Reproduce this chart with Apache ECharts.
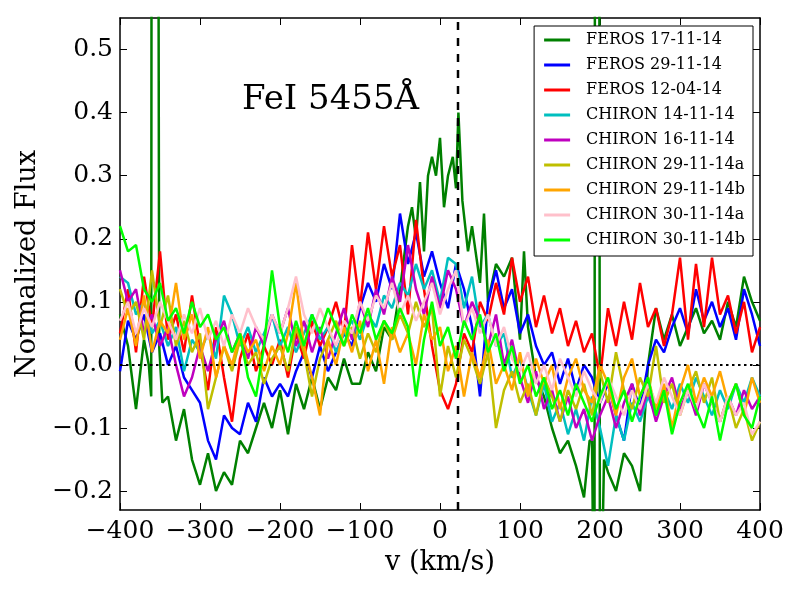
<!DOCTYPE html>
<html>
<head>
<meta charset="utf-8">
<script src="https://cdn.jsdelivr.net/npm/echarts@6/dist/echarts.min.js"></script>
<style>html,body{margin:0;padding:0;background:#fff}#c{width:800px;height:600px}</style>
</head>
<body>
<div id="c"></div>
<script>
// velocity grid (km/s) shared by the CHIRON / FEROS 29-11 / 12-04 spectra
const V = [-400,-390,-380,-370,-360,-350,-340,-330,-320,-310,
-300,-290,-280,-270,-260,-250,-240,-230,-220,-210,
-200,-190,-180,-170,-160,-150,-140,-130,-120,-110,
-100,-90,-80,-70,-60,-50,-40,-30,-20,-10,
0,10,20,30,40,50,60,70,80,90,
100,110,120,130,140,150,160,170,180,190,
200,210,220,230,240,250,260,270,280,290,
300,310,320,330,340,350,360,370,380,390,400];

// FEROS 17-11-14 (own velocity sampling, includes cosmic-ray spikes)
const FEROS_171114_V = [-400,-390,-380,-370,-364,-361,-358,-351,-347,-340,
-330,-320,-310,-300,-290,-280,-270,-260,-250,-240,
-230,-220,-210,-200,-190,-180,-170,-160,-150,-140,
-130,-120,-110,-100,-90,-80,-70,-60,-50,-40,
-35,-30,-25,-20,-15,-10,-5,0,5,10,
16,20,23,28,35,40,50,55,60,70,
80,90,100,105,110,120,130,140,150,160,
170,180,187,190,193,196,200,205,210,220,
230,240,250,260,270,280,290,300,310,320,
330,340,350,360,370,380,390,400];
const FEROS_171114 = [0.08,0.03,-0.07,0.04,0.00,-0.05,5,0.03,-0.06,-0.05,
-0.12,-0.07,-0.15,-0.19,-0.14,-0.20,-0.17,-0.19,-0.12,-0.14,
-0.10,-0.06,-0.10,-0.04,-0.11,-0.03,-0.07,-0.02,-0.07,-0.02,
-0.04,0.01,-0.03,-0.03,0.02,-0.01,0.06,0.04,0.12,0.22,
0.25,0.20,0.29,0.18,0.30,0.33,0.30,0.36,0.25,0.30,
0.33,0.28,0.40,0.26,0.18,0.22,0.13,0.24,0.10,0.16,
0.14,0.17,0.04,0.18,0.06,-0.02,-0.05,-0.10,-0.14,-0.12,
-0.16,-0.21,-0.12,-0.12,-0.5,5,-0.5,-0.15,-0.17,-0.20,
-0.14,-0.16,-0.20,0.00,0.09,0.04,0.08,0.03,0.06,0.09,
0.05,0.07,0.04,0.10,0.06,0.14,0.10,0.07];

const FEROS_291114 = [-0.01,0.07,0.04,0.08,0.02,0.05,0.00,0.03,-0.02,-0.04,
-0.06,-0.12,-0.15,-0.08,-0.10,-0.11,-0.06,-0.09,-0.02,-0.05,
-0.03,-0.05,-0.01,0.02,-0.02,0.03,-0.01,0.02,0.05,0.03,
0.09,0.13,0.10,0.16,0.12,0.24,0.16,0.21,0.14,0.18,
0.13,0.09,0.16,0.12,0.06,-0.05,0.10,0.15,0.09,0.12,
0.05,0.08,0.03,0.00,0.02,-0.03,0.01,-0.04,0.00,-0.02,
-0.06,-0.03,-0.08,-0.12,-0.03,-0.07,0.00,0.04,0.02,0.06,
0.09,0.05,0.12,0.07,0.10,0.06,0.09,0.04,0.12,0.08,
0.03];
const FEROS_120414 = [0.05,0.12,0.02,0.14,0.06,0.18,0.04,0.08,0.02,0.11,
0.03,-0.04,0.06,-0.02,-0.09,0.01,0.05,-0.01,0.03,0.00,
0.04,-0.02,0.05,0.01,0.07,0.03,0.06,0.10,0.05,0.19,
0.09,0.21,0.12,0.22,0.14,0.19,0.08,0.23,0.12,0.03,
-0.04,-0.07,-0.03,0.05,0.02,0.10,0.07,0.13,0.08,0.17,
0.10,0.14,0.06,0.11,0.05,0.09,0.03,0.07,0.02,0.05,
-0.02,0.09,0.03,0.10,0.04,0.13,0.06,0.09,0.03,0.08,
0.17,0.04,0.16,0.06,0.17,0.08,0.11,0.05,0.10,0.02,
0.06];
const CHIRON_141114 = [0.14,0.13,0.08,0.10,0.05,0.07,0.03,0.06,-0.01,0.04,
0.02,0.05,0.01,0.11,0.08,0.03,0.06,0.02,0.05,0.08,
0.03,0.06,0.02,0.05,0.08,0.04,0.06,0.02,0.05,0.07,
0.04,0.08,0.06,0.11,0.09,0.13,0.11,0.16,0.12,0.15,
0.10,0.17,0.16,0.09,0.14,0.06,0.08,0.03,0.05,-0.02,
0.01,-0.04,-0.08,-0.03,-0.09,-0.06,-0.11,-0.07,-0.12,-0.05,
-0.10,-0.16,-0.08,-0.12,-0.06,-0.09,-0.05,-0.08,-0.04,-0.07,
-0.03,-0.06,-0.02,-0.05,-0.08,-0.04,-0.07,-0.03,-0.06,-0.02,
-0.05];
const CHIRON_161114 = [0.15,0.10,0.12,0.05,0.08,0.03,0.06,0.00,-0.05,-0.02,
0.03,-0.01,0.04,0.07,0.02,0.05,0.01,0.06,0.03,0.08,
0.05,0.09,0.03,0.07,0.02,0.06,0.01,0.05,0.09,0.04,
0.10,0.06,0.12,0.08,0.14,0.10,0.19,0.12,0.08,0.14,
0.09,0.15,0.12,0.06,0.10,0.07,0.03,0.08,0.00,0.04,
-0.02,-0.06,-0.01,-0.07,-0.04,-0.09,-0.05,-0.10,-0.07,-0.12,
-0.08,-0.05,-0.10,-0.06,-0.03,-0.08,-0.04,-0.09,-0.05,-0.02,
-0.07,-0.04,-0.08,-0.03,-0.06,-0.09,-0.05,-0.08,-0.04,-0.07,
-0.05];
const CHIRON_291114a = [0.12,0.08,0.10,0.04,0.15,0.06,0.11,0.03,0.07,0.02,
0.05,-0.07,-0.02,0.03,-0.01,0.04,0.00,0.02,-0.03,0.01,
0.03,-0.01,0.06,0.02,-0.05,0.01,0.04,0.07,0.03,0.06,
0.01,0.05,0.02,0.07,0.04,0.08,0.05,0.10,0.06,0.09,
-0.05,0.03,-0.02,0.04,0.01,-0.03,0.02,-0.10,-0.04,-0.01,
-0.06,-0.03,-0.08,-0.02,-0.05,-0.09,-0.04,-0.07,-0.03,-0.08,
-0.01,-0.06,0.02,-0.04,-0.07,-0.02,-0.05,0.03,-0.06,-0.03,
-0.08,-0.04,-0.01,-0.06,-0.02,-0.09,-0.05,-0.10,-0.07,-0.12,
-0.09];
const CHIRON_291114b = [0.04,0.09,0.03,0.11,0.02,0.07,0.05,0.13,0.04,0.08,
0.01,0.06,-0.02,0.03,0.00,0.05,0.02,0.04,-0.01,0.03,
0.00,0.05,0.13,0.03,-0.02,-0.08,0.04,0.00,0.06,0.02,
0.07,-0.01,0.04,-0.03,0.06,0.02,0.05,0.00,0.08,0.04,
0.06,-0.01,0.03,-0.05,0.02,-0.02,0.04,-0.03,0.00,-0.04,
0.02,-0.05,0.01,-0.03,0.00,-0.07,-0.02,0.01,-0.04,-0.06,
0.00,-0.03,-0.08,-0.02,0.01,-0.05,-0.02,-0.07,-0.03,-0.10,
-0.04,0.00,-0.06,-0.02,-0.05,-0.01,-0.06,-0.03,-0.08,-0.02,
-0.06];
const CHIRON_301114a = [0.07,0.10,0.05,0.09,0.06,0.10,0.07,0.04,0.08,0.05,
0.09,0.04,0.07,0.03,0.08,0.05,0.09,0.06,0.04,0.08,
0.05,0.09,0.14,0.08,0.05,0.09,0.06,0.03,0.07,0.05,
0.10,0.07,0.11,0.09,0.13,0.08,0.11,0.07,0.10,0.13,
0.08,0.12,0.15,0.06,0.09,0.05,0.08,0.03,0.06,0.01,
-0.01,0.02,-0.03,0.00,-0.04,0.01,-0.02,-0.05,-0.01,-0.04,
-0.06,-0.02,-0.05,-0.08,-0.04,-0.07,-0.03,-0.06,-0.02,-0.05,
-0.08,-0.04,-0.07,-0.03,-0.06,-0.09,-0.05,-0.08,-0.06,-0.11,
-0.09];
const CHIRON_301114b = [0.22,0.18,0.19,0.12,0.10,0.13,0.07,0.09,0.05,0.10,
0.06,0.08,0.04,0.06,0.02,0.05,-0.02,-0.05,0.03,0.15,
0.06,0.02,0.07,0.03,0.08,0.05,0.09,0.06,0.03,0.08,
0.05,0.09,0.04,0.07,0.05,0.09,0.06,-0.05,0.04,0.10,
0.03,0.06,0.01,0.07,0.04,0.08,0.02,0.05,-0.01,0.03,
-0.03,0.00,-0.05,-0.02,-0.07,-0.04,-0.08,-0.03,-0.06,-0.09,
-0.05,-0.02,-0.07,-0.04,-0.09,-0.05,-0.02,-0.08,-0.04,-0.11,
-0.06,-0.03,-0.07,-0.10,-0.05,-0.12,-0.06,-0.03,-0.08,-0.10,
-0.05];

const SERIES_NAMES = ['FEROS 17-11-14','FEROS 29-11-14','FEROS 12-04-14','CHIRON 14-11-14','CHIRON 16-11-14','CHIRON 29-11-14a','CHIRON 29-11-14b','CHIRON 30-11-14a','CHIRON 30-11-14b'];
const SERIES_COLORS = ['#008000','#0000ff','#ff0000','#00bfbf','#bf00bf','#bfbf00','#ffa500','#ffc0cb','#00ff00'];
const SERIES_X = [FEROS_171114_V, V, V, V, V, V, V, V, V];
const SERIES_Y = [FEROS_171114, FEROS_291114, FEROS_120414, CHIRON_141114, CHIRON_161114, CHIRON_291114a, CHIRON_291114b, CHIRON_301114a, CHIRON_301114b];

const X_MIN = -400, X_MAX = 400, X_STEP = 100;
const Y_MIN = -0.23, Y_MAX = 0.55;
const Y_TICKS = [-0.2,-0.1,0.0,0.1,0.2,0.3,0.4,0.5];
const LINE_CENTER_V = 22.5;   // dashed vertical marker
const ZERO_LEVEL = 0.0;       // dotted horizontal reference
const TITLE = 'FeI 5455Å';

const FONT = 'DejaVu Serif';
const fmt = (v, d) => v.toFixed(d).replace('-', '\u2212');

const chart = echarts.init(document.getElementById('c'), null, {renderer: 'canvas'});

const series = SERIES_NAMES.map((name, k) => ({
  name, type: 'line', symbol: 'none', showSymbol: false, clip: true,
  lineStyle: {width: 2.5, color: SERIES_COLORS[k]},
  itemStyle: {color: SERIES_COLORS[k]},
  data: SERIES_X[k].map((x, i) => [x, SERIES_Y[k][i]]),
  z: 2 + k * 0.01
}));
series.push({
  name: 'vline', type: 'line', symbol: 'none', clip: true, z: 3,
  lineStyle: {width: 2.5, color: '#000', type: [8, 8]},
  data: [[LINE_CENTER_V, Y_MIN], [LINE_CENTER_V, Y_MAX]]
});
series.push({
  name: 'hline', type: 'line', symbol: 'none', clip: true, z: 3,
  lineStyle: {width: 2, color: '#000', type: [2.5, 3.5]},
  data: [[X_MIN, ZERO_LEVEL], [X_MAX, ZERO_LEVEL]]
});

const axisLine = {show: true, onZero: false, lineStyle: {color: '#000', width: 1.5}};
const tickStyle = {lineStyle: {color: '#000', width: 1}};

chart.setOption({
  animation: false,
  backgroundColor: '#fff',
  grid: {left: 120, right: 40, top: 18, bottom: 90, containLabel: false},
  xAxis: [{
    type: 'value', min: X_MIN, max: X_MAX, interval: X_STEP, position: 'bottom',
    axisLine, splitLine: {show: false},
    axisTick: Object.assign({inside: true, length: 7}, tickStyle),
    axisLabel: {color: '#000', fontFamily: FONT, fontSize: 25, margin: 9, formatter: v => fmt(v, 0)},
    name: 'v (km/s)', nameLocation: 'middle', nameGap: 39,
    nameTextStyle: {color: '#000', fontFamily: FONT, fontSize: 27}
  }, {
    type: 'value', min: X_MIN, max: X_MAX, interval: X_STEP, position: 'top',
    axisLine, splitLine: {show: false}, axisLabel: {show: false},
    axisTick: Object.assign({inside: true, length: 7}, tickStyle)
  }],
  yAxis: [{
    type: 'value', min: Y_MIN, max: Y_MAX, position: 'left',
    axisLine, splitLine: {show: false},
    axisTick: Object.assign({inside: true, length: 7, customValues: Y_TICKS}, tickStyle),
    axisLabel: {color: '#000', fontFamily: FONT, fontSize: 25, margin: 7, customValues: Y_TICKS, formatter: v => fmt(v, 1)},
    name: 'Normalized Flux', nameLocation: 'middle', nameGap: 74, nameRotate: 90,
    nameTextStyle: {color: '#000', fontFamily: FONT, fontSize: 27}
  }, {
    type: 'value', min: Y_MIN, max: Y_MAX, position: 'right',
    axisLine, splitLine: {show: false}, axisLabel: {show: false},
    axisTick: Object.assign({inside: true, length: 7, customValues: Y_TICKS}, tickStyle)
  }],
  legend: {
    data: SERIES_NAMES, orient: 'vertical', right: 47, top: 26,
    icon: 'rect', itemWidth: 26, itemHeight: 3, itemGap: 9,
    padding: [6, 8, 8, 10],
    backgroundColor: '#fff', borderColor: '#000', borderWidth: 1, borderRadius: 0,
    textStyle: {color: '#000', fontFamily: FONT, fontSize: 16, lineHeight: 16, padding: [0, 0, 0, 11]},
    selectedMode: false
  },
  graphic: [{
    type: 'text', x: 242, y: 100, z: 10,
    style: {text: TITLE, font: '34px "' + FONT + '"', fill: '#000', verticalAlign: 'middle', align: 'left'}
  }],
  series
});
</script>
</body>
</html>
